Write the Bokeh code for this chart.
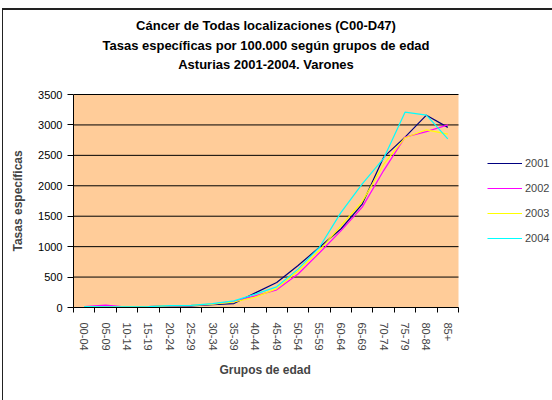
import math
from bokeh.plotting import figure
from bokeh.models import (Range1d, FixedTicker, Legend, LegendItem, Label, Title)
from bokeh.embed import file_html
from bokeh.resources import INLINE

ages = ["00-04", "05-09", "10-14", "15-19", "20-24", "25-29", "30-34", "35-39",
        "40-44", "45-49", "50-54", "55-59", "60-64", "65-69", "70-74", "75-79",
        "80-84", "85+"]
y2001 = [15, 12, 10, 15, 25, 25, 45, 65, 240, 410, 690, 990, 1290, 1700, 2470, 2800, 3160, 2960]
y2002 = [15, 40, 5, 15, 30, 35, 55, 100, 190, 290, 550, 900, 1260, 1650, 2250, 2800, 2890, 3000]
y2003 = [15, 12, 10, 15, 30, 35, 55, 90, 170, 310, 600, 940, 1340, 1740, 2350, 2790, 2920, 2850]
y2004 = [15, 12, 10, 15, 30, 35, 65, 110, 220, 340, 630, 990, 1560, 2030, 2450, 3210, 3160, 2770]
years = ["2001", "2002", "2003", "2004"]
colors = ["#000080", "#FF00FF", "#FFFF00", "#00FFFF"]
yticks = [0, 500, 1000, 1500, 2000, 2500, 3000, 3500]
title_lines = ["Cáncer de Todas localizaciones (C00-D47)",
               "Tasas específicas por 100.000 según grupos de edad",
               "Asturias 2001-2004. Varones"]
x_title = "Grupos de edad"
y_title = "Tasas específicas"

FONT = "Liberation Sans"

# ---- layout (pixels) ----
W, H = 552, 400
PLOT_L, PLOT_R, PLOT_T, PLOT_B = 73, 458, 94, 307
TITLE_Y = [25, 45, 64]

n = len(ages)
ymax = yticks[-1]
xs = [i + 0.5 for i in range(n)]

x_end = n * (W - PLOT_L) / (PLOT_R - PLOT_L)
y_end = ymax * PLOT_B / (PLOT_B - PLOT_T)


def y_px(py):
    return (PLOT_B - py) / (PLOT_B - PLOT_T) * ymax


p = figure(width=W, height=H, output_backend="svg", toolbar_location=None,
           x_range=Range1d(0, x_end), y_range=Range1d(0, y_end),
           min_border_left=PLOT_L, min_border_right=0, min_border_top=0,
           min_border_bottom=H - PLOT_B, title=None)

p.background_fill_color = None
p.border_fill_color = None
p.outline_line_color = None
p.xgrid.grid_line_color = None
p.ygrid.grid_line_color = None
# chart-area border line (top and left edges), drawn behind the transparent canvas
p.styles = {
    "background-color": "white",
    "background-image": "linear-gradient(#222222, #222222), linear-gradient(#222222, #222222)",
    "background-size": "100% 2px, 1px 100%",
    "background-position": "2px 8px, 2px 8px",
    "background-repeat": "no-repeat",
}

# plot area background and horizontal grid lines
p.quad(left=[0], right=[n], bottom=[0], top=[ymax], fill_color="#FFCC99", line_color=None)
p.segment(x0=[0] * len(yticks), x1=[n] * len(yticks), y0=yticks, y1=yticks,
          line_color="black", line_width=1)

# y axis
yax = p.yaxis[0]
yax.bounds = (0, ymax)
yax.ticker = FixedTicker(ticks=yticks)
yax.axis_line_color = "black"
yax.major_tick_line_color = "black"
yax.major_tick_out = 6
yax.major_tick_in = 0
yax.minor_tick_line_color = None
yax.major_label_standoff = 5
yax.major_label_text_font = FONT
yax.major_label_text_font_size = "11px"
yax.major_label_text_color = "black"

# x axis: labels at category centres, tick marks (minor) at boundaries
xax = p.xaxis[0]
xax.bounds = (0, n)
xax.ticker = FixedTicker(ticks=xs, minor_ticks=list(range(n + 1)))
xax.major_label_overrides = {x: a for x, a in zip(xs, ages)}
xax.axis_line_color = "black"
xax.major_tick_line_color = None
xax.major_tick_out = 0
xax.major_tick_in = 0
xax.minor_tick_line_color = "black"
xax.minor_tick_out = 5
xax.minor_tick_in = 0
xax.major_label_orientation = -math.pi / 2
xax.major_label_standoff = 10
xax.major_label_text_font = FONT
xax.major_label_text_font_size = "11px"

# axis titles, centred on the plot area
p.add_layout(Title(text=y_title, align="left", offset=56, vertical_align="top",
                   standoff=18, text_font=FONT, text_font_style="bold",
                   text_font_size="12px"), "left")
p.add_layout(Title(text=x_title, align="left", offset=146, standoff=15,
                   text_font=FONT, text_font_style="bold",
                   text_font_size="12px"), "below")

# series
series = [y2001, y2002, y2003, y2004]
items = []
for yr, col, ys in zip(years, colors, series):
    r = p.line(xs, ys, line_color=col, line_width=1.2)
    items.append(LegendItem(label=yr, renderers=[r]))

legend = Legend(items=items, location=(487 - PLOT_L, PLOT_B - 248))
legend.border_line_color = None
legend.background_fill_alpha = 0
legend.padding = 0
legend.margin = 0
legend.spacing = 5
legend.label_height = 20
legend.glyph_height = 20
legend.glyph_width = 35
legend.label_standoff = 3
legend.label_text_font = FONT
legend.label_text_font_size = "11px"
p.add_layout(legend, "center")

# chart title lines
for txt, ty in zip(title_lines, TITLE_Y):
    p.add_layout(Label(x=n / 2, y=y_px(ty), text=txt, text_align="center",
                       text_baseline="middle", text_font=FONT,
                       text_font_style="bold", text_font_size="13px",
                       text_color="black"))

open("out.html", "w").write(file_html(p, INLINE))
